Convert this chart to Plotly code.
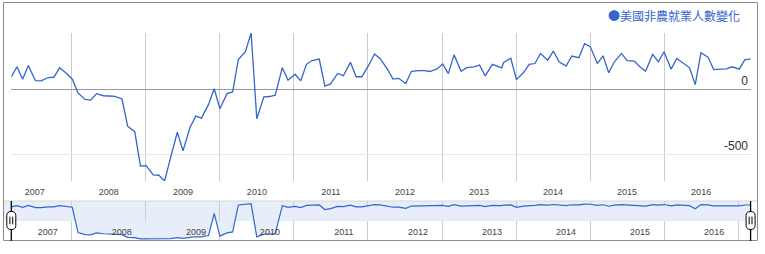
import numpy as np
import pandas as pd
import plotly.graph_objects as go

# ---------------- data ----------------
# Monthly change in US non-farm payrolls (thousands), plotted at the release date
release_months = pd.date_range("2007-03-01", "2017-03-31", freq="WOM-1FRI")
release_date_overrides = {"2007-03": "2007-03-09", "2013-10": "2013-10-22"}
payroll_change = [
    95, 172, 77, 182, 67, 64, 90, 92, 164, 120,                 # 2007-03 .. 2007-12
    77, -28, -77, -82, -33, -49, -51, -54, -74, -282, -323, -585,  # 2008
    -582, -654, -656, -700, -533, -328, -469, -290, -205, -220, -115, 4,  # 2009
    -149, -33, -20, 228, 287, 430, -225, -58, -55, -45, 165, 70,  # 2010
    115, 65, 191, 220, 231, 25, 41, 121, 104, 206, 96, 96,        # 2011
    186, 270, 234, 155, 78, 84, 44, 138, 143, 143, 136, 156,      # 2012
    194, 120, 263, 138, 166, 172, 185, 102, 191, 164, 205, 237,   # 2013
    74, 128, 190, 197, 274, 223, 292, 210, 177, 254, 241, 349,    # 2014
    326, 197, 256, 126, 210, 274, 219, 215, 172, 138, 267, 210,   # 2015
    287, 154, 236, 205, 164, 36, 279, 246, 151, 154, 156, 172,    # 2016
    154, 226, 231,                                                # 2017-01 .. 2017-03
]
series_name = "美國非農就業人數變化"
year_tick_start = "2007-01-01"
y_tick_values = [-500, 0]
y_tick_labels = ["-500", "0"]

dates = [pd.Timestamp(release_date_overrides.get(d.strftime("%Y-%m"), d)) for d in release_months]
assert len(dates) == len(payroll_change)
vals = np.array(payroll_change, dtype=float)

# overview strip uses a compressed (log-like) scale of the same series
overview_vals = np.sign(vals) * (1 + np.log10(np.maximum(np.abs(vals), 1)))

W, H = 765, 254
BLUE = "#3366cc"
BAND = "#e8eef9"
LATIN = "Liberation Sans, Arial, sans-serif"
CJK = "Noto Sans CJK TC, Noto Sans CJK SC, sans-serif"


def px(x):
    return x / W


def py(y):
    return 1 - y / H


x_dom = [px(11.3), px(751)]
x_range = [dates[0], dates[-1] + pd.Timedelta(days=2)]


def date_to_paper(d):
    frac = (d - x_range[0]) / (x_range[1] - x_range[0])
    return x_dom[0] + frac * (x_dom[1] - x_dom[0])


fig = go.Figure()

fig.add_trace(go.Scatter(
    x=dates, y=vals, mode="lines", name=series_name,
    line=dict(color=BLUE, width=1.3), xaxis="x", yaxis="y", showlegend=False,
))

fig.add_trace(go.Scatter(
    x=dates, y=overview_vals, mode="lines", fill="tozeroy", fillcolor=BAND,
    line=dict(color=BLUE, width=1.2), xaxis="x2", yaxis="y2", showlegend=False,
))

shapes = []
# outer frame
shapes.append(dict(type="rect", xref="paper", yref="paper",
                   x0=px(3.5), x1=px(757.5), y0=py(240.5), y1=py(2.5),
                   line=dict(color="#8c8c8c", width=1), layer="above"))
# overview band (upper half)
shapes.append(dict(type="rect", xref="paper", yref="y2",
                   x0=px(4), x1=px(749.5), y0=0, y1=4.2,
                   fillcolor=BAND, line=dict(width=0), layer="below"))
# overview top separator
shapes.append(dict(type="line", xref="paper", yref="paper",
                   x0=px(4), x1=px(757), y0=py(201), y1=py(201),
                   line=dict(color="#d6d6d6", width=1), layer="above"))
# range handles at both ends of the series
for d in (dates[0], dates[-1]):
    hx = date_to_paper(d)
    shapes.append(dict(type="line", xref="paper", yref="paper",
                       x0=hx, x1=hx, y0=py(241), y1=py(201),
                       line=dict(color="#000000", width=1.3), layer="above"))
    shapes.append(dict(type="path", xref="paper", yref="paper",
                       xsizemode="pixel", ysizemode="pixel",
                       xanchor=hx, yanchor=py(220.5),
                       path="M -4.5,-5 L -4.5,5 Q -4.5,9 0,9 Q 4.5,9 4.5,5 L 4.5,-5 Q 4.5,-9 0,-9 Q -4.5,-9 -4.5,-5 Z",
                       fillcolor="#ffffff", line=dict(color="#000000", width=1), layer="above"))
    for dx in (-1.4, 1.4):
        shapes.append(dict(type="line", xref="paper", yref="paper",
                           xsizemode="pixel", ysizemode="pixel",
                           xanchor=hx, yanchor=py(220.5),
                           x0=dx, x1=dx, y0=-3.8, y1=3.8,
                           line=dict(color="#000000", width=1), layer="above"))

fig.update_layout(
    width=W, height=H, autosize=False,
    margin=dict(l=0, r=0, t=0, b=0),
    paper_bgcolor="white", plot_bgcolor="white",
    showlegend=False,
    xaxis=dict(
        type="date", domain=x_dom, range=x_range, anchor="y",
        tick0=year_tick_start, dtick="M12", ticklabelmode="period", tickformat="%Y",
        showgrid=True, gridcolor="#cccccc", gridwidth=1,
        showline=False, ticks="", zeroline=False, ticklabelstandoff=4,
        tickfont=dict(family=LATIN, size=9, color="#444444"),
    ),
    yaxis=dict(
        domain=[py(181), py(33)], range=[vals.min(), vals.max()], anchor="x",
        side="right", ticklabelposition="inside",
        tickmode="array", tickvals=y_tick_values, ticktext=y_tick_labels,
        ticklabelshift=-9,
        showgrid=True, gridcolor="#e6e6ef", gridwidth=1,
        zeroline=True, zerolinecolor="#999999", zerolinewidth=1,
        showline=False, ticks="",
        tickfont=dict(family=LATIN, size=12, color="#333333"),
    ),
    xaxis2=dict(
        type="date", domain=x_dom, range=x_range, anchor="y2",
        tick0=year_tick_start, dtick="M12", ticklabelmode="period", tickformat="%Y",
        ticklabelposition="inside", ticklabelshift=13,
        showgrid=True, gridcolor="#cccccc", gridwidth=1,
        showline=False, ticks="", zeroline=False,
        tickfont=dict(family=LATIN, size=9, color="#444444"),
    ),
    yaxis2=dict(
        domain=[py(240), py(201)], range=[-4.0, 4.2], anchor="x2",
        showgrid=False, zeroline=False, showticklabels=False, ticks="",
    ),
    shapes=shapes,
    annotations=[dict(
        xref="paper", yref="paper", x=px(742), y=py(15),
        xanchor="right", yanchor="middle", showarrow=False,
        text="●" + series_name,
        font=dict(family=CJK, size=12, color=BLUE),
    )],
)

fig.write_html("out.html")
